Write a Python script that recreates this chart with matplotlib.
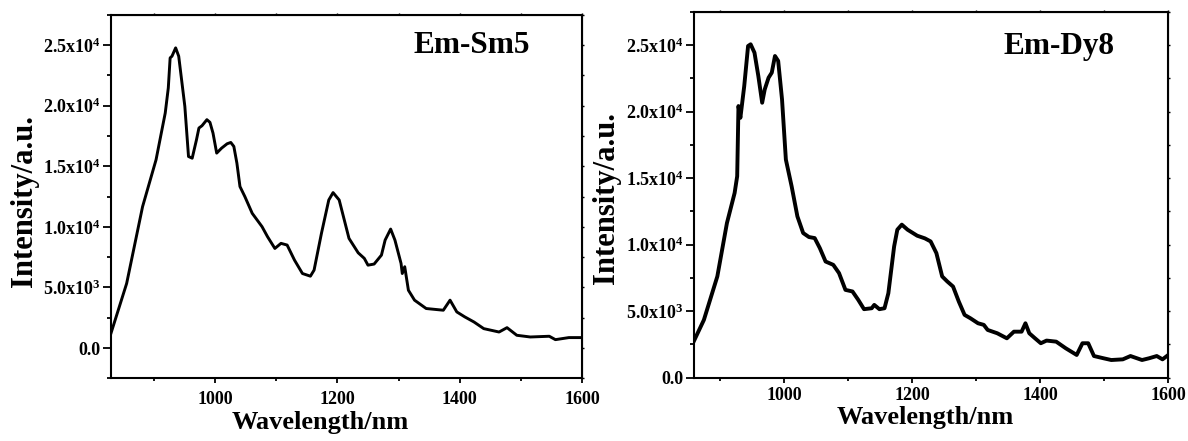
import matplotlib
matplotlib.use('Agg')
from matplotlib import pyplot as plt
from matplotlib.ticker import MultipleLocator

# Em-Sm5 emission spectrum
sm_wl = [830, 856, 882, 904, 919, 924, 927, 930, 936, 941, 951, 957, 963, 970, 974,
         979, 987, 992, 997, 1003, 1011, 1020, 1026, 1031, 1036, 1041, 1049, 1061,
         1077, 1086, 1098, 1108, 1118, 1130, 1143, 1156, 1162, 1174, 1186, 1193,
         1203, 1219, 1234, 1244, 1250, 1260, 1272, 1278, 1287, 1294, 1304, 1306,
         1310, 1313, 1316, 1326, 1345, 1363, 1373, 1384, 1395, 1408, 1423, 1439,
         1464, 1477, 1493, 1515, 1546, 1556, 1578, 1603]
sm_int = [1150, 5330, 11670, 15540, 19400, 21470, 23950, 24090, 24780, 24090,
          19950, 15810, 15670, 17190, 18160, 18350, 18850, 18630, 17740, 16090,
          16500, 16860, 16970, 16640, 15260, 13330, 12500, 11120, 10020, 9190,
          8220, 8640, 8500, 7260, 6150, 5930, 6430, 9460, 12220, 12830, 12220,
          9050, 7860, 7400, 6840, 6930, 7670, 8910, 9820, 8910, 6980, 6150, 6710,
          5740, 4770, 3950, 3260, 3170, 3120, 3950, 2980, 2570, 2150, 1600, 1320,
          1680, 1050, 910, 970, 690, 860, 860]

# Em-Dy8 emission spectrum
dy_wl = [859, 875, 896, 911, 923, 927, 929, 932, 938, 944, 948, 954, 960, 966,
         970, 976, 981, 986, 991, 997, 1003, 1012, 1021, 1030, 1039, 1048, 1056,
         1065, 1077, 1086, 1096, 1107, 1116, 1125, 1137, 1141, 1149, 1157, 1163,
         1172, 1177, 1184, 1193, 1208, 1220, 1229, 1238, 1247, 1255, 1264, 1273,
         1282, 1291, 1303, 1312, 1318, 1333, 1348, 1359, 1371, 1377, 1383, 1392,
         1401, 1410, 1425, 1440, 1457, 1466, 1475, 1484, 1499, 1511, 1529, 1541,
         1559, 1570, 1582, 1591, 1600]
dy_int = [2710, 4340, 7610, 11620, 13880, 15140, 20410, 19530, 21910, 24920,
          25050, 24420, 22670, 20660, 21660, 22540, 22920, 24170, 23800, 20910,
          16390, 14380, 12120, 10870, 10570, 10490, 9740, 8730, 8480, 7860, 6600,
          6480, 5850, 5150, 5220, 5470, 5150, 5220, 6350, 9860, 11120, 11500,
          11120, 10670, 10470, 10240, 9360, 7610, 7230, 6850, 5720, 4720, 4470,
          4090, 3970, 3590, 3340, 2960, 3460, 3460, 4090, 3340, 2960, 2590, 2790,
          2710, 2210, 1710, 2590, 2590, 1630, 1460, 1330, 1380, 1630, 1330, 1460,
          1630, 1380, 1710]

y_ticks = [0, 5000, 10000, 15000, 20000, 25000]
y_labels = ['0.0', '5.0x10$^3$', '1.0x10$^4$', '1.5x10$^4$', '2.0x10$^4$', '2.5x10$^4$']

plt.rcParams['font.family'] = 'Liberation Serif'
plt.rcParams['font.weight'] = 'bold'
plt.rcParams['mathtext.fontset'] = 'custom'
plt.rcParams['mathtext.rm'] = 'Liberation Serif:bold'
plt.rcParams['mathtext.default'] = 'rm'

fig = plt.figure(figsize=(11.88, 4.41), dpi=100)
ax1 = fig.add_axes([0.0932, 0.1422, 0.397, 0.824])
ax2 = fig.add_axes([0.5844, 0.1435, 0.399, 0.830])


def arregla_ejes(ax, xmin, ymin, xpad):
    ax.set_xlim(xmin, 1600)
    ax.set_ylim(ymin, 27500)
    ax.xaxis.set_major_locator(MultipleLocator(200))
    ax.xaxis.set_minor_locator(MultipleLocator(100))
    ax.set_yticks(y_ticks)
    ax.set_yticklabels(y_labels)
    ax.yaxis.set_minor_locator(MultipleLocator(2500))
    ax.tick_params(which='both', direction='out', width=1.3, labelsize=13)
    ax.tick_params(axis='x', which='major', length=3.6, pad=xpad)
    ax.tick_params(axis='x', which='minor', length=2.4)
    ax.tick_params(axis='y', which='major', length=5.5, pad=2)
    ax.tick_params(axis='y', which='minor', length=3)
    for s in ax.spines.values():
        s.set_linewidth(1.5)
    # ticks cortitos arriba y a la derecha
    arriba = ax.secondary_xaxis('top')
    arriba.xaxis.set_major_locator(MultipleLocator(100))
    arriba.tick_params(length=1.5, width=1, labeltop=False)
    derecha = ax.secondary_yaxis('right')
    derecha.yaxis.set_major_locator(MultipleLocator(2500))
    derecha.tick_params(length=1.5, width=1, labelright=False)


ax1.plot(sm_wl, sm_int, color='black', linewidth=2.1)
arregla_ejes(ax1, 830, -2500, 5.5)
ax1.set_xlabel('Wavelength/nm', fontsize=19, fontweight='bold')
ax1.xaxis.set_label_coords(0.444, -0.09)
ax1.set_ylabel('Intensity/a.u.', fontsize=22, fontweight='bold', va='center')
ax1.yaxis.set_label_coords(-0.182, 0.488)
ax1.text(0.6417, 0.8946, 'Em-Sm5', transform=ax1.transAxes, fontsize=22.5,
         fontweight='bold', ha='left', va='baseline')

ax2.plot(dy_wl, dy_int, color='black', linewidth=2.8)
arregla_ejes(ax2, 860, 0, 3.0)
ax2.set_xlabel('Wavelength/nm', fontsize=19, fontweight='bold')
ax2.xaxis.set_label_coords(0.487, -0.078)
ax2.set_ylabel('Intensity/a.u.', fontsize=22, fontweight='bold', va='center')
ax2.yaxis.set_label_coords(-0.185, 0.49)
ax2.text(0.652, 0.884, 'Em-Dy8', transform=ax2.transAxes, fontsize=22.5,
         fontweight='bold', ha='left', va='baseline')

fig.savefig('out.png', dpi=100)
